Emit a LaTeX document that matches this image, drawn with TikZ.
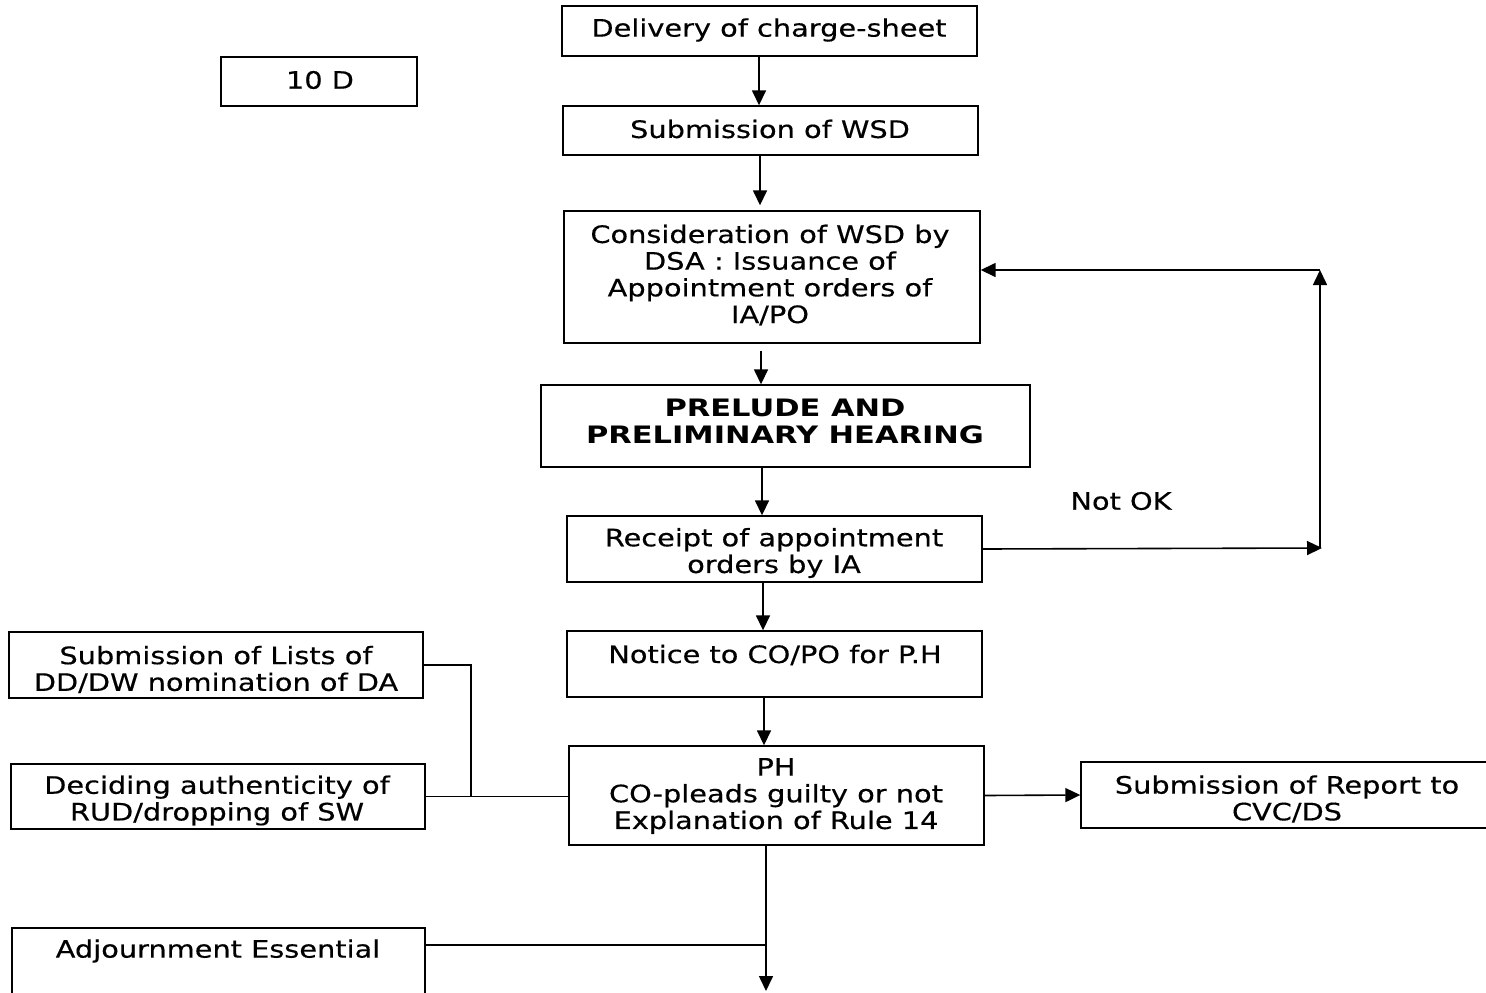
\documentclass[tikz,border=0pt]{standalone}
\usepackage{fontspec}
\setmainfont{DejaVu Sans}[FakeStretch=1.2, UprightFeatures={FakeBold=0.4}, BoldFeatures={FakeStretch=1.27}]
\usetikzlibrary{arrows.meta,calc}
\begin{document}
\begin{tikzpicture}[x=1pt,y=-1pt,
  box/.style={draw,line width=1.4pt,inner sep=0pt},
  txt/.style={inner sep=0pt,align=center,yshift=-3pt,font=\fontsize{24}{26.7}\selectfont},
  arr/.style={line width=1.6pt,-{Triangle[length=15pt,width=14pt]}},
  ln/.style={line width=1.4pt}]
\clip (0,0) rectangle (1486,993);
\fill[white] (0,0) rectangle (1486,993);
% boxes
\node[box,minimum width=196pt,minimum height=49pt] (d10) at (319,81.5) {};
\node[box,minimum width=415pt,minimum height=50pt] (del) at (769.5,31) {};
\node[box,minimum width=415pt,minimum height=49pt] (wsd) at (770.5,130.5) {};
\node[box,minimum width=416pt,minimum height=132pt] (cons) at (772,277) {};
\node[box,minimum width=489pt,minimum height=82pt] (prel) at (785.5,426) {};
\node[box,minimum width=415pt,minimum height=66pt] (rec) at (774.5,549) {};
\node[box,minimum width=415pt,minimum height=66pt] (not) at (774.5,664) {};
\node[box,minimum width=415pt,minimum height=99pt] (ph) at (776.5,795.5) {};
\node[box,minimum width=411pt,minimum height=66pt] (rep) at (1286.5,795) {};
\node[box,minimum width=414pt,minimum height=66pt] (lists) at (216,665) {};
\node[box,minimum width=414pt,minimum height=65pt] (dec) at (218,796.5) {};
\node[box,minimum width=413pt,minimum height=76pt] (adj) at (218.5,966) {};
% texts
\node[txt] (t10) at (320,77) {10 D};
\node[txt] (tdel) at (769,27) {Delivery of charge-sheet};
\node[txt] (twsd) at (770,126) {Submission of WSD};
\node[txt] (tcons) at (770,272) {Consideration of WSD by\\DSA : Issuance of\\Appointment orders of\\IA/PO};
\node[txt,font=\fontsize{24}{26.7}\selectfont\bfseries] (tprel) at (785,418.5) {PRELUDE AND\\PRELIMINARY HEARING};
\node[txt] (trec) at (774,550) {Receipt of appointment\\orders by IA};
\node[txt] (tnot) at (775,652) {Notice to CO/PO for P.H};
\node[txt] (tph) at (776,793) {PH\\CO-pleads guilty or not\\Explanation of Rule 14};
\node[txt] (trep) at (1287,796) {Submission of Report to\\CVC/DS};
\node[txt] (tlists) at (216,666.5) {Submission of Lists of\\DD/DW nomination of DA};
\node[txt] (tdec) at (217,797.5) {Deciding authenticity of\\RUD/dropping of SW};
\node[txt] (tadj) at (218,948) {Adjournment Essential};
\node[txt] (tnok) at (1121,498) {Not OK};
% coordinates
\coordinate (cR) at (1322,548);
\coordinate (cB) at (1320,548);
\coordinate (cT) at (1320,270);
\coordinate (jn) at (471,796.5);
\coordinate (pb) at (766,991);
% connectors
\draw[arr] ([xshift=-10.5pt]del.south) -- ([xshift=-10.5pt]del.south |- wsd.north);
\draw[arr,shorten >=5pt] ([xshift=-10.5pt]wsd.south) -- ([xshift=-10.5pt]wsd.south |- cons.north);
\draw[arr,shorten <=7pt] ([xshift=-11pt]cons.south) -- ([xshift=-11pt]cons.south |- prel.north);
\draw[arr] ([xshift=-23.5pt]prel.south) -- ([xshift=-23.5pt]prel.south |- rec.north);
\draw[arr] ([xshift=-11.5pt]rec.south) -- ([xshift=-11.5pt]rec.south |- not.north);
\draw[arr] ([xshift=-10.5pt]not.south) -- ([xshift=-10.5pt]not.south |- ph.north);
\draw[arr] ([xshift=-10.5pt]ph.south) -- (pb);
\draw[arr] (rec.east) -- (cR);
\draw[arr] (cB) -- (cT);
\draw[arr] (cT) -- (cT -| cons.east);
\draw[arr] (ph.east) -- (rep.west);
\draw[ln] (lists.east) -| (jn);
\draw[ln] (dec.east) -- (dec.east -| ph.west);
\draw[ln] ([yshift=21pt]adj.east) -- ([yshift=21pt]adj.east -| pb);
\end{tikzpicture}
\end{document}
